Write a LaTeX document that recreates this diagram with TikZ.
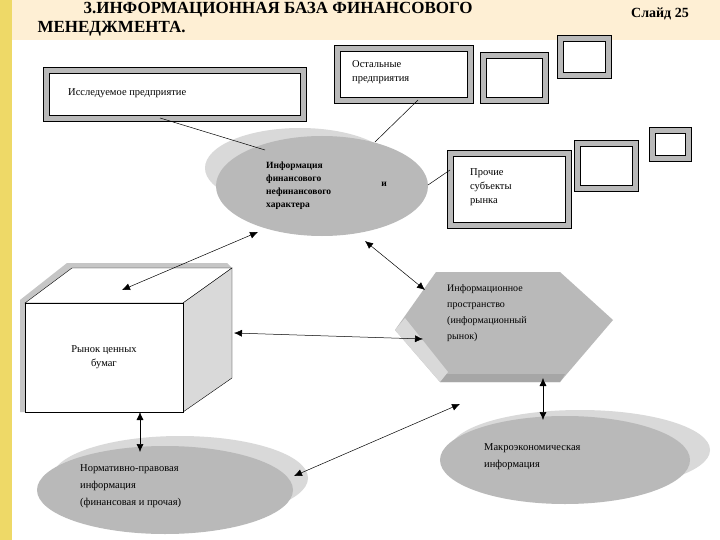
\documentclass[tikz,border=0pt]{standalone}
\usepackage{fontspec}
\setmainfont{Liberation Serif}
\usetikzlibrary{shapes.geometric,arrows.meta}
\begin{document}
\begin{tikzpicture}[x=1pt,y=-1pt,
  bev/.style={draw=black,line width=0.8pt,double=gray!55,double distance=5pt,fill=white,inner sep=0pt,anchor=north west},
  txt/.style={font=\fontsize{10.5}{14}\selectfont,align=left,inner sep=0pt},
  ell/.style={ellipse,fill=gray!55,inner sep=0pt},
  shad/.style={fill=gray!30},
  con/.style={line width=0.5pt},
  dar/.style={line width=0.5pt,{Latex[length=8pt,width=7pt]}-{Latex[length=8pt,width=7pt]}}]
\useasboundingbox (0,0) rectangle (720,540);
\fill[white] (0,0) rectangle (720,540);
\fill[yellow!25!orange!15] (0,0) rectangle (720,40);
\fill[yellow!60!brown!70] (0,0) rectangle (12,540);
\node[font=\bfseries\fontsize{17}{20}\selectfont,anchor=west] (t1) at (80,10) {3.ИНФОРМАЦИОННАЯ БАЗА ФИНАНСОВОГО};
\node[font=\bfseries\fontsize{17}{20}\selectfont,anchor=west] (t2) at (34,29) {МЕНЕДЖМЕНТА.};
\node[font=\bfseries\fontsize{14}{16}\selectfont] (sl) at (660,14) {Слайд 25};
% boxes
\node[bev,minimum width=257pt,minimum height=48pt] (b1) at (46,70) {};
\node[txt,anchor=west] at (68,93) {Исследуемое предприятие};
\node[bev,minimum width=133pt,minimum height=52pt] (b2) at (337,48) {};
\node[txt,anchor=north west] at (352,60) {Остальные\\предприятия};
\node[bev,minimum width=62pt,minimum height=45pt] (s1) at (483,55) {};
\node[bev,minimum width=48pt,minimum height=37pt] (s2) at (560,38) {};
\node[bev,minimum width=58pt,minimum height=45pt] (s3) at (577,143) {};
\node[bev,minimum width=36pt,minimum height=28pt] (s4) at (652,130) {};
\node[bev,minimum width=118pt,minimum height=72pt] (b3) at (450,153) {};
\node[txt,anchor=north west] at (470,168) {Прочие\\субъекты\\рынка};
% top ellipse
\fill[shad] (300,168) ellipse (95 and 40);
\node[ell,minimum width=212pt,minimum height=100pt] (e1) at (322,186) {};
\node[txt,anchor=north west,font=\bfseries\fontsize{9.5}{13}\selectfont] at (266,162) {Информация\\финансового\\нефинансового\\характера};
\node[txt,font=\bfseries\fontsize{9.5}{13}\selectfont] at (384,184) {и};
% cube
\fill[gray!45] (20,300) -- (67,263) -- (227,263) -- (232,268) -- (72,268) -- (25,303) -- (25,412) -- (20,412) -- cycle;
\draw[fill=white] (25,303) -- (72,268) -- (232,268) -- (183,303) -- cycle;
\draw[fill=gray!30] (183,303) -- (232,268) -- (232,378) -- (183,412) -- cycle;
\node[draw,fill=white,anchor=north west,minimum width=158pt,minimum height=109pt,inner sep=0pt] (cube) at (25,303) {};
\node[txt,align=center] at (104,357) {Рынок ценных\\бумаг};
% hexagon
\fill[gray!55] (436,272) -- (560,272) -- (613,320) -- (560,382) -- (440,382) -- (395,330) -- cycle;
\fill[gray!70] (440,374) -- (565,374) -- (560,382) -- (440,382) -- cycle;
\fill[gray!30] (395,330) -- (405,318) -- (448,372) -- (440,382) -- cycle;
\coordinate (hex) at (505,326);
\node[txt,anchor=north west,font=\fontsize{10}{16}\selectfont] at (447,284) {Информационное\\пространство\\(информационный\\рынок)};
% bottom ellipses
\fill[shad] (180,478) ellipse (128 and 42);
\node[ell,minimum width=256pt,minimum height=88pt] (e2) at (165,490) {};
\node[txt,anchor=north west,font=\fontsize{10.5}{17}\selectfont] at (80,464) {Нормативно-правовая\\информация\\(финансовая и прочая)};
\fill[shad] (580,450) ellipse (130 and 40);
\node[ell,minimum width=250pt,minimum height=88pt] (e3) at (565,460) {};
\node[txt,anchor=north west,font=\fontsize{10.5}{17}\selectfont] at (484,443) {Макроэкономическая\\информация};
% connectors
\coordinate (c1) at (160,118); \coordinate (c2) at (265,150);
\draw[con] (c1) -- (c2);
\coordinate (c3) at (418,100); \coordinate (c4) at (375,142);
\draw[con] (c3) -- (c4);
\coordinate (c5) at (450,170); \coordinate (c6) at (428,185);
\draw[con] (c5) -- (c6);
\coordinate (a1) at (258,232); \coordinate (a2) at (122,290);
\draw[dar] (a1) -- (a2);
\coordinate (a3) at (365,241); \coordinate (a4) at (425,290);
\draw[dar] (a3) -- (a4);
\coordinate (a5) at (234,333); \coordinate (a6) at (423,339);
\draw[dar] (a5) -- (a6);
\coordinate (a7) at (140,412); \coordinate (a8) at (140,452);
\draw[dar] (a7) -- (a8);
\coordinate (a9) at (460,404); \coordinate (a10) at (294,476);
\draw[dar] (a9) -- (a10);
\coordinate (a11) at (543,378); \coordinate (a12) at (543,420);
\draw[dar] (a11) -- (a12);
\end{tikzpicture}
\end{document}
